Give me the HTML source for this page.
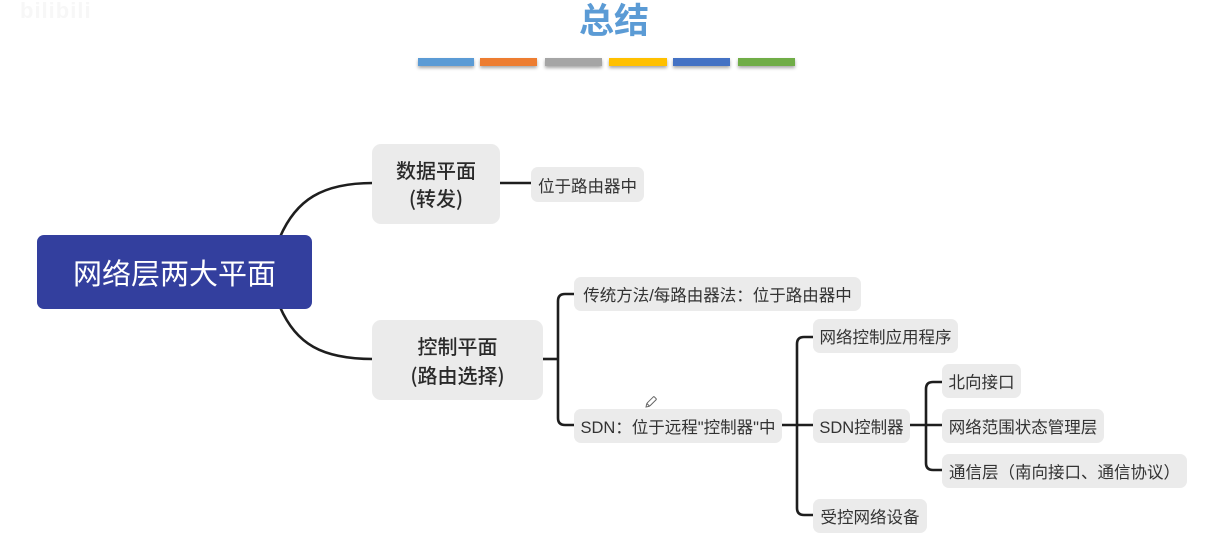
<!DOCTYPE html>
<html>
<head>
<meta charset="utf-8">
<style>
  html,body{margin:0;padding:0;background:#fff;}
  body{width:1219px;height:554px;position:relative;overflow:hidden;
       font-family:"Liberation Sans","Noto Sans CJK SC",sans-serif;}
  .abs{position:absolute;}
  .title{left:514px;width:200px;top:0;height:44px;line-height:44px;text-align:center;
         font-size:35px;font-weight:bold;color:#5b9bd5;}
  .bar{position:absolute;top:58px;height:8px;box-shadow:0 2px 3px rgba(0,0,0,0.35);}
  .node{position:absolute;background:#ebebeb;border-radius:7px;display:flex;align-items:center;
        justify-content:center;white-space:nowrap;color:#333;font-size:16.5px;
        font-family:"Liberation Sans","Noto Sans CJK SC",sans-serif;}
  .big{flex-direction:column;font-size:20px;font-weight:500;color:#2a2a2a;line-height:28px;border-radius:9px;
       font-family:"Noto Sans CJK SC","Liberation Sans",sans-serif;}
  .root{position:absolute;left:37px;top:235px;width:275px;height:74px;background:#333f9e;
        border-radius:7px;color:#fff;font-size:29px;display:flex;align-items:center;justify-content:center;
        white-space:nowrap;}
  .wm{left:20px;top:-2px;font-size:22px;color:#f7f7f7;font-weight:bold;letter-spacing:1px;}
</style>
</head>
<body>
  <div class="abs wm">bilibili</div>
  <div class="abs title">总结</div>

  <div class="bar" style="left:418px;width:56px;background:#5b9bd5;"></div>
  <div class="bar" style="left:480px;width:57px;background:#ed7d31;"></div>
  <div class="bar" style="left:545px;width:57px;background:#a5a5a5;"></div>
  <div class="bar" style="left:609px;width:58px;background:#ffc000;"></div>
  <div class="bar" style="left:673px;width:57px;background:#4472c4;"></div>
  <div class="bar" style="left:738px;width:57px;background:#70ad47;"></div>

  <svg class="abs" style="left:0;top:0;" width="1219" height="554" viewBox="0 0 1219 554">
    <g fill="none" stroke="#1e1e1e" stroke-width="2.6" stroke-linecap="butt">
      <path d="M 280 237 C 296 200, 322 183, 373 183"/>
      <path d="M 280 307 C 296 344, 322 359, 373 359"/>
      <path d="M 500 183 L 531 183"/>
      <path d="M 543 359 L 558 359"/>
      <path d="M 574 294 L 565 294 Q 558 294 558 301 L 558 418 Q 558 425 565 425 L 574 425"/>
      <path d="M 782 425 L 813 425"/>
      <path d="M 813 337 L 804 337 Q 797 337 797 344 L 797 508 Q 797 515 804 515 L 813 515"/>
      <path d="M 910 425 L 942 425"/>
      <path d="M 942 382 L 933 382 Q 926 382 926 389 L 926 463 Q 926 470 933 470 L 942 470"/>
    </g>
    <g transform="translate(651,402) rotate(45)" fill="none" stroke="#666" stroke-width="1">
      <rect x="-2" y="-6" width="4" height="10" rx="1"/>
      <path d="M -2 4 L 0 7 L 2 4"/>
    </g>
  </svg>

  <div class="root">网络层两大平面</div>

  <div class="node big" style="left:372px;top:144px;width:128px;height:80px;"><div>数据平面</div><div>(转发)</div></div>
  <div class="node" style="left:531px;top:167px;width:113px;height:35px;">位于路由器中</div>

  <div class="node big" style="left:372px;top:320px;width:171px;height:80px;line-height:29px;"><div>控制平面</div><div>(路由选择)</div></div>

  <div class="node" style="left:574px;top:277px;width:287px;height:34px;">传统方法/每路由器法：位于路由器中</div>
  <div class="node" style="left:574px;top:409px;width:208px;height:34px;">SDN：位于远程"控制器"中</div>

  <div class="node" style="left:813px;top:319px;width:145px;height:34px;">网络控制应用程序</div>
  <div class="node" style="left:813px;top:409px;width:97px;height:34px;">SDN控制器</div>
  <div class="node" style="left:813px;top:499px;width:114px;height:34px;">受控网络设备</div>

  <div class="node" style="left:942px;top:364px;width:79px;height:34px;">北向接口</div>
  <div class="node" style="left:942px;top:409px;width:162px;height:34px;">网络范围状态管理层</div>
  <div class="node" style="left:942px;top:454px;width:245px;height:34px;">通信层（南向接口、通信协议）</div>
</body>
</html>
